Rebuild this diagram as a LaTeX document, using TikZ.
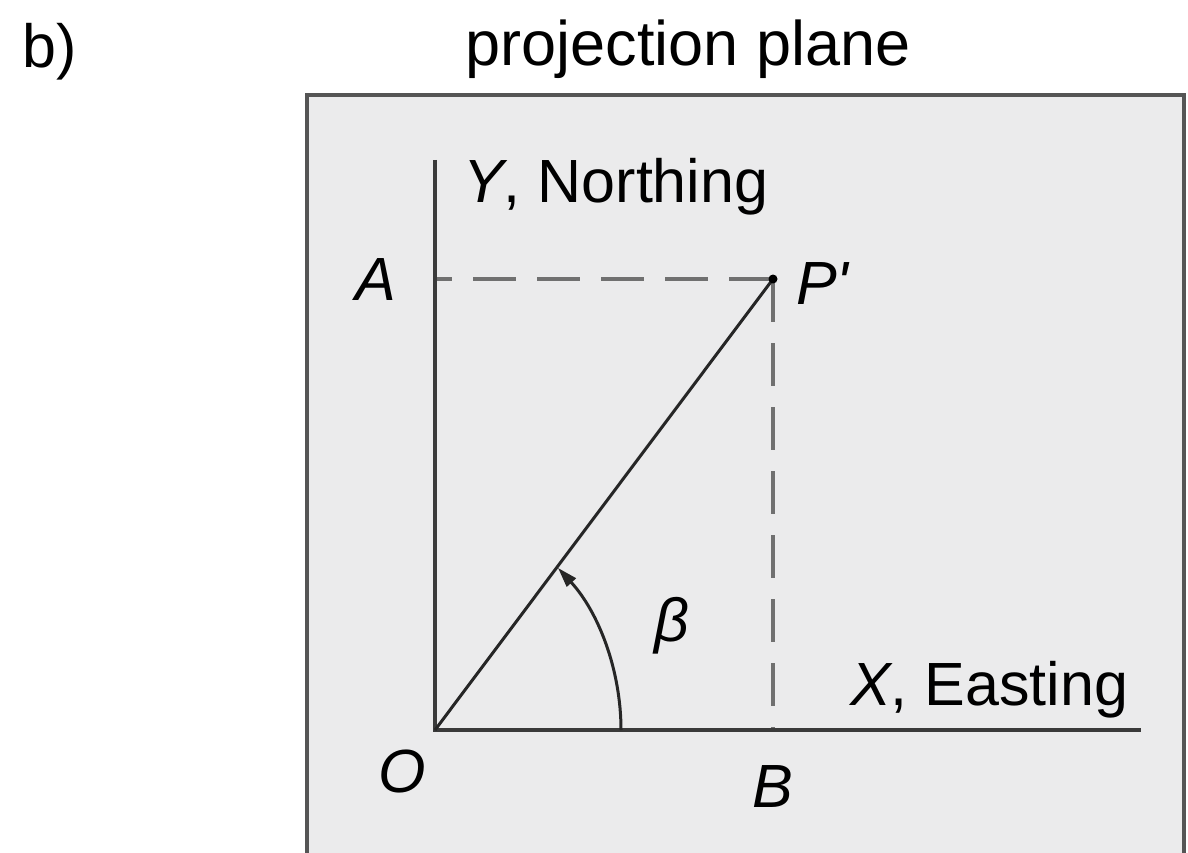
\documentclass[tikz,border=0pt]{standalone}
\usepackage{fontspec}
\setmainfont{Liberation Sans}
\usetikzlibrary{arrows.meta}
\definecolor{planefill}{HTML}{EBEBEC}
\definecolor{planeborder}{HTML}{555555}
\definecolor{axiscol}{HTML}{3A3A3A}
\definecolor{dashcol}{HTML}{707070}
\begin{document}
\begin{tikzpicture}[x=1pt,y=-1pt,
  lbl/.style={inner sep=0pt,font=\fontsize{61}{72}\selectfont},
  axisline/.style={line width=4pt,color=axiscol},
  dashline/.style={line width=3.5pt,color=dashcol,dash pattern=on 43pt off 21pt},
  rayline/.style={line width=3pt,color=black!85}]
\useasboundingbox (0,0) rectangle (1188,853);
\draw[line width=4pt,draw=planeborder,fill=planefill] (307,95) rectangle (1184,900);
% points
\coordinate (O) at (435,730);
\coordinate (Ytop) at (435,160);
\coordinate (Xend) at (1141,730);
\coordinate (P) at (773,279);
\coordinate (A) at (435,279);
\coordinate (B) at (773,730);
% dashed projections
\draw[dashline,dash phase=26pt] (A) -- (P);
\draw[dashline,dash phase=0pt] (P) -- (B);
% axes
\draw[axisline] (Ytop) -- (O) -- (Xend);
% ray
\draw[rayline] (O) -- (P);
\fill (P) circle (4.5pt);
% angle arc
\draw[line width=3pt,color=black!85,-{Triangle[length=20pt,width=12pt]}] (621,730) arc[start angle=0,end angle=-42.5,radius=240];
% labels
\node[lbl,anchor=base west] (btext) at (22,68) {b)};
\node[lbl,anchor=base,font=\fontsize{63}{74}\selectfont] (ptitle) at (688,66) {projection plane};
\node[lbl,anchor=base west] (ylab) at (463,203) {\itshape Y\upshape, Northing};
\node[lbl,anchor=base west] (xlab) at (850,705) {\itshape X\upshape, Easting};
\node[lbl,anchor=base] (alab) at (376,300) {\itshape A};
\node[lbl,anchor=base west] (plab) at (796,304) {\itshape P\textquotesingle};
\node[lbl,anchor=base] (blab) at (773,807) {\itshape B};
\node[lbl,anchor=base] (olab) at (402,792) {\itshape O};
\node[lbl,anchor=base] (betalab) at (672,641) {\itshape β};
\end{tikzpicture}
\end{document}
